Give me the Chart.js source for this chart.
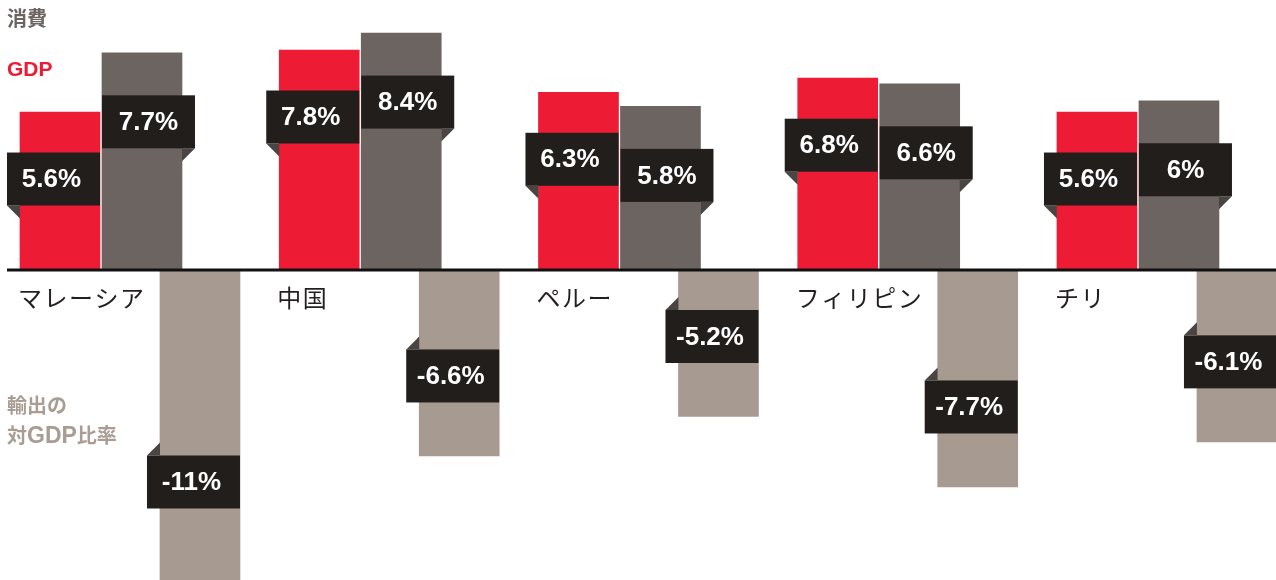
<!DOCTYPE html>
<html lang="ja">
<head>
<meta charset="utf-8">
<script src="https://cdn.jsdelivr.net/npm/chart.js@4.4.1/dist/chart.umd.min.js"></script>
<style>
  body { margin: 0; background: #fff; }
  #wrap { position: relative; width: 1276px; height: 580px; }
  .note {
    position: absolute; left: 7px;
    font-family: "Noto Sans CJK JP", sans-serif;
    font-weight: bold; font-size: 20px; line-height: 30px;
  }
  .note .lat { font-family: "Liberation Sans", Arial, sans-serif; font-size: 23px; }
</style>
</head>
<body>
<div id="wrap">
  <canvas id="chart"></canvas>
  <div class="note" style="top:3px;color:#6b6461">消費</div>
  <div class="note" style="top:53px;color:#ed1b34"><span class="lat" style="font-size:21px">GDP</span></div>
  <div class="note" style="top:390px;color:#a89c93">輸出の<br>対<span class="lat">GDP</span>比率</div>
</div>
<script>
// ---- duomenys (%) ----
const countries = ["マレーシア", "中国", "ペルー", "フィリピン", "チリ"];
const gdp = [5.6, 7.8, 6.3, 6.8, 5.6];
const consumption = [7.7, 8.4, 5.8, 6.6, 6];
const exportsToGdp = [-11, -6.6, -5.2, -7.7, -6.1];

// stulpelių poslinkis grupės viduje (x vienetais)
const SHIFT_GDP = 0;
const SHIFT_CONS = 0.3163;
const SHIFT_EXP = 0.54;

function points(values, shift) {
  return values.map((v, i) => ({ x: i + shift, y: v }));
}

function fmt(v) {
  return String(v) + "%";
}

// ---- juodos etiketės su užlenktu kampu + ašis + šalių pavadinimai ----
const tagPlugin = {
  id: "tags",
  afterDatasetsDraw(chart) {
    const ctx = chart.ctx;
    const zeroY = chart.scales.y.getPixelForValue(0);

    ctx.save();
    ctx.strokeStyle = "#111";
    ctx.lineWidth = 3;
    ctx.beginPath();
    ctx.moveTo(7, zeroY);
    ctx.lineTo(chart.width, zeroY);
    ctx.stroke();

    // šalių pavadinimai po raudonu stulpeliu
    const redBars = chart.getDatasetMeta(0).data;
    ctx.fillStyle = "#231f20";
    ctx.font = "24px 'Noto Sans CJK JP', sans-serif";
    ctx.letterSpacing = "1.5px";
    ctx.textAlign = "left";
    ctx.textBaseline = "top";
    redBars.forEach((bar, i) => {
      ctx.fillText(countries[i], bar.x - bar.width / 2 - 2, zeroY + 16);
    });
    ctx.letterSpacing = "0px";

    const W = 93, H = 53, F = 13;
    chart.data.datasets.forEach((ds, di) => {
      const tag = ds.tag;
      chart.getDatasetMeta(di).data.forEach((bar, i) => {
        const v = ds.data[i].y;
        const left = bar.x - bar.width / 2;
        const right = bar.x + bar.width / 2;
        // ilgiausiam stulpeliui etiketė šiek tiek aukščiau
        const dy = v < -10 ? tag.dy + 18 : tag.dy;
        const cy = v >= 0 ? bar.y + dy : bar.y - dy;
        const y1 = cy - H / 2, y2 = cy + H / 2;
        const x1 = tag.side === "right" ? left : left - F;

        // užlenktas kampas
        ctx.fillStyle = "#4a4542";
        ctx.beginPath();
        if (tag.side === "left") {
          ctx.moveTo(left - F, y2); ctx.lineTo(left, y2); ctx.lineTo(left, y2 + F);
        } else if (tag.side === "right") {
          ctx.moveTo(right, y2); ctx.lineTo(right + F, y2); ctx.lineTo(right, y2 + F);
        } else {
          ctx.moveTo(left - F, y1); ctx.lineTo(left, y1); ctx.lineTo(left, y1 - F);
        }
        ctx.closePath();
        ctx.fill();

        ctx.fillStyle = "#221e1b";
        ctx.fillRect(x1, y1, W, H);

        ctx.fillStyle = "#fff";
        ctx.font = "bold 26px 'Liberation Sans', Arial, sans-serif";
        ctx.textAlign = "center";
        ctx.textBaseline = "middle";
        ctx.fillText(fmt(v), x1 + W / 2 - (tag.side === "right" ? 0 : 2), cy + 1);
      });
    });
    ctx.restore();
  },
};

new Chart(document.getElementById("chart"), {
  type: "bar",
  data: {
    datasets: [
      {
        label: "GDP",
        data: points(gdp, SHIFT_GDP),
        backgroundColor: "#ed1b34",
        tag: { side: "left", dy: 67 },
      },
      {
        label: "消費",
        data: points(consumption, SHIFT_CONS),
        backgroundColor: "#6b6461",
        tag: { side: "right", dy: 69 },
      },
      {
        label: "輸出の対GDP比率",
        data: points(exportsToGdp, SHIFT_EXP),
        backgroundColor: "#a69a91",
        tag: { side: "top", dy: 80 },
      },
    ],
  },
  options: {
    responsive: true,
    maintainAspectRatio: false,
    animation: false,
    layout: { padding: 0 },
    datasets: {
      bar: { barThickness: 80, grouped: false, borderWidth: 0 },
    },
    plugins: {
      legend: { display: false },
      tooltip: { enabled: false },
    },
    scales: {
      x: { type: "linear", offset: false, min: -0.2314, max: 4.6906, display: false },
      y: { min: -11, max: 9.574, display: false },
    },
  },
  plugins: [tagPlugin],
});
</script>
</body>
</html>
